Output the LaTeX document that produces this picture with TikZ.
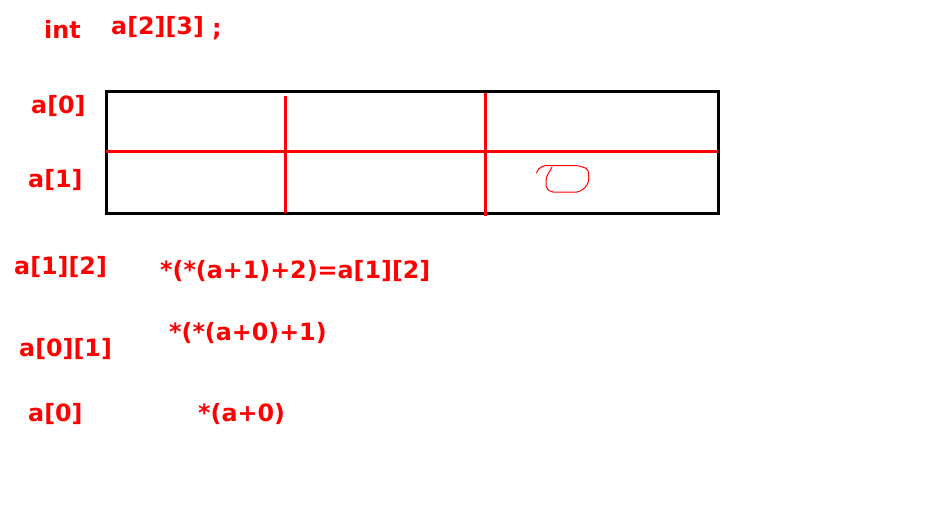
\documentclass[tikz,border=0pt]{standalone}
\usepackage{fontspec}
\setmainfont{DejaVu Sans}
\begin{document}
\begin{tikzpicture}[x=1pt,y=-1pt,
  lbl/.style={anchor=west,inner sep=0pt,text=red,font=\bfseries\fontsize{23.8}{28}\selectfont},
  grid/.style={draw=red,line width=3pt},
  box/.style={draw=black,line width=3pt}]
\useasboundingbox[fill=white] (0,0) rectangle (940,523);
% array box
\coordinate (tl) at (106,91);
\coordinate (br) at (718,213);
\draw[box] (tl) rectangle (br);
\coordinate (hl) at (106,151);
\coordinate (hr) at (718,151);
\draw[grid] (hl) -- (hr);
\coordinate (v1t) at (285,96);
\coordinate (v1b) at (285,213);
\draw[grid] (v1t) -- (v1b);
\coordinate (v2t) at (485,93);
\coordinate (v2b) at (485,216);
\draw[grid] (v2t) -- (v2b);
% scribble
\draw[red,line width=1pt,rounded corners=2pt]
  (536.7,173.3) -- (537,170) -- (541,167.5) -- (543,165.7) -- (579,165.7) -- (588,169)
  -- (589,180) -- (586,187) -- (579,192) -- (551,192) -- (546,188) -- (546,178) -- (552,167);
% texts
\node[lbl] (int) at (44,29) {int};
\node[lbl] (decl) at (111,27) {a[2][3]};
\node[lbl] (semi) at (212,32) {;};
\node[lbl] (r0) at (31,106) {a[0]};
\node[lbl] (r1) at (28,180) {a[1]};
\node[lbl] (e12) at (14,267) {a[1][2]};
\node[lbl] (x12) at (160,271) {*(*(a+1)+2)=a[1][2]};
\node[lbl] (e01) at (19,349) {a[0][1]};
\node[lbl] (x01) at (169,333) {*(*(a+0)+1)};
\node[lbl] (e0) at (28,414) {a[0]};
\node[lbl] (x0) at (198,414) {*(a+0)};
\end{tikzpicture}
\end{document}
